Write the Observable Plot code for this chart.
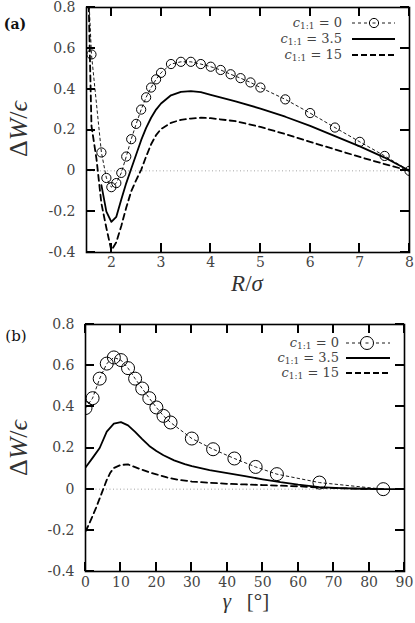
<!DOCTYPE html>
<html><head><meta charset="utf-8">
<script src="https://cdn.jsdelivr.net/npm/d3@7"></script>
<script src="https://cdn.jsdelivr.net/npm/@observablehq/plot@0.6"></script>
<style>
html,body{margin:0;padding:0;background:#fff;}
body{width:415px;height:623px;overflow:hidden;position:relative;}
svg{display:block;overflow:visible;}
#overlay{position:absolute;left:0;top:0;width:415px;height:623px;pointer-events:none;z-index:10;}
</style></head><body><div id="pa"></div><div id="pb"></div>
<svg id="overlay" width="415" height="623"></svg>
<script>
// ---- Panel (a): ΔW/ε vs R/σ ----
const R_c0 = [1.5,1.6,1.8,1.9,2.0,2.1,2.2,2.3,2.4,2.5,2.6,2.7,2.8,2.9,3.0,3.2,3.4,3.6,3.8,4.0,4.2,4.4,4.6,4.8,5.0,5.5,6.0,6.5,7.0,7.5,8.0];
const W_c0 = [1.1,0.57,0.09,-0.035,-0.08,-0.06,-0.01,0.07,0.155,0.23,0.30,0.36,0.408,0.448,0.48,0.523,0.534,0.534,0.523,0.51,0.494,0.473,0.454,0.433,0.408,0.35,0.283,0.212,0.142,0.073,0];
const R_c35 = [1.8,1.9,2.0,2.1,2.2,2.3,2.4,2.5,2.6,2.7,2.8,2.9,3.0,3.2,3.4,3.6,3.8,4.0,4.5,5.0,5.5,6.0,6.5,7.0,7.5,8.0];
const W_c35 = [-0.07,-0.2,-0.25,-0.225,-0.14,-0.06,0.01,0.08,0.15,0.21,0.26,0.3,0.33,0.37,0.387,0.39,0.385,0.372,0.34,0.305,0.265,0.22,0.17,0.12,0.065,0];
const R_c15 = [1.5,1.6,1.7,1.8,1.9,2.0,2.1,2.2,2.3,2.4,2.5,2.6,2.7,2.8,2.9,3.0,3.2,3.4,3.6,3.8,4.0,4.5,5.0,5.5,6.0,6.5,7.0,7.5,8.0];
const W_c15 = [1.3,0.22,0.06,-0.16,-0.28,-0.39,-0.35,-0.27,-0.18,-0.10,-0.045,0.005,0.07,0.13,0.175,0.205,0.235,0.25,0.256,0.26,0.258,0.243,0.215,0.18,0.142,0.105,0.068,0.033,0];

// ---- Panel (b): ΔW/ε vs γ ----
const G_c0 = [0,2,4,6,8,10,12,14,16,18,20,22,24,30,36,42,48,54,66,84];
const V_c0 = [0.394,0.442,0.537,0.61,0.64,0.627,0.588,0.537,0.489,0.442,0.397,0.356,0.324,0.246,0.194,0.149,0.108,0.073,0.032,0];
const G_c35 = [0,2,4,6,8,10,12,14,16,18,20,22,25,28,30,35,40,45,50,55,60,66,72,78,84,90];
const V_c35 = [0.105,0.152,0.2,0.28,0.318,0.326,0.31,0.278,0.243,0.21,0.185,0.165,0.14,0.122,0.112,0.093,0.078,0.063,0.048,0.034,0.022,0.01,0.005,0.002,0,0];
const G_c15 = [0,1,2,3,4,5,6,7,8,10,12,14,16,18,20,23,26,30,35,40,45,50,55,60,66,72,78,84];
const V_c15 = [-0.205,-0.17,-0.13,-0.09,-0.045,0.0,0.045,0.08,0.103,0.118,0.12,0.107,0.094,0.082,0.072,0.057,0.046,0.037,0.031,0.026,0.023,0.02,0.017,0.014,0.008,0.004,0.002,0];

const yTicks = [-0.4,-0.2,0,0.2,0.4,0.6,0.8];
const xTicksA = [2,3,4,5,6,7,8];
const xTicksB = [0,10,20,30,40,50,60,70,80,90];
const legendLabels = ["0","3.5","15"];

const zip = (xs, ys) => xs.map((x,i)=>({x, y: ys[i]}));
const fmtY = d => d === 0 ? "0" : d.toFixed(1);
const FONT = "DejaVu Serif";
const BIG = "Liberation Serif";
const TICK = 9;
const Y_DOMAIN = [-0.4, 0.8];

function makePanel({xDomain, xTicks, c0, c35, c15, width, height, mt, mb, ml, mr, r, xPad}) {
  return Plot.plot({
    width, height, marginTop: mt, marginBottom: mb, marginLeft: ml, marginRight: mr,
    style: {fontFamily: FONT, fontSize: "14px", color: "#444", background: "white"},
    x: {domain: xDomain}, y: {domain: Y_DOMAIN},
    marks: [
      Plot.ruleY([0], {stroke: "#999", strokeWidth: 0.9, strokeDasharray: "1,2.5"}),
      Plot.line(c0, {x: "x", y: "y", stroke: "black", strokeWidth: 0.9, strokeDasharray: "2.5,3", clip: true}),
      Plot.dot(c0, {x: "x", y: "y", r, stroke: "black", strokeWidth: 1, fill: "none", clip: true}),
      Plot.line(c35, {x: "x", y: "y", stroke: "black", strokeWidth: 1.8, clip: true}),
      Plot.line(c15, {x: "x", y: "y", stroke: "black", strokeWidth: 1.8, strokeDasharray: "6,4", clip: true}),
      Plot.axisX(xTicks, {anchor: "bottom", tickSize: 0, tickPadding: xPad, label: null, fill: "#444"}),
      Plot.axisY(yTicks, {anchor: "left", tickSize: 0, tickPadding: 11, tickFormat: fmtY, label: null, fill: "#444"}),
      Plot.frame({stroke: "black", strokeWidth: 1.6})
    ]
  });
}

// inward ticks on all four sides, positioned by the plot's own scales, drawn in a top overlay
function addTicks(svg, xTicks, {width, height, mt, mb, ml, mr}, offsetY) {
  const sx = svg.scale("x"), sy = svg.scale("y");
  let fx = v => sx.apply(v), fy = v => sy.apply(v);
  if (typeof sx.apply !== "function" || !isFinite(fx(xTicks[1]))) {
    fx = d3.scaleLinear(sx.domain, [ml, width - mr]);
    fy = d3.scaleLinear(sy.domain, [height - mb, mt]);
  }
  const top = mt + offsetY, bottom = height - mb + offsetY, left = ml, right = width - mr;
  const g = d3.select("#overlay").append("g").attr("stroke", "#000").attr("stroke-width", 2).attr("fill", "none");
  xTicks.forEach(v => {
    const x = Math.round(fx(v));
    g.append("path").attr("d", `M${x},${bottom}V${bottom - TICK}`);
    g.append("path").attr("d", `M${x},${top}V${top + TICK}`);
  });
  yTicks.forEach(v => {
    const y = Math.round(fy(v)) + offsetY;
    g.append("path").attr("d", `M${left},${y}H${left + TICK}`);
    g.append("path").attr("d", `M${right},${y}H${right - TICK}`);
  });
}

function addLegend(svg, {xr, x0, x1, ys, cx, r}) {
  const g = d3.select(svg).append("g").attr("font-family", FONT).attr("font-size", 13).attr("fill", "#444");
  legendLabels.forEach((lab, i) => {
    const t = g.append("text").attr("x", xr).attr("y", ys[i]).attr("text-anchor", "end").attr("dy", "0.3em");
    t.append("tspan").attr("font-style", "italic").text("c");
    t.append("tspan").attr("font-size", 9).attr("dy", 2.5).text("1:1");
    t.append("tspan").attr("dy", -2.5).text(" = " + lab);
  });
  const l = g.append("g").attr("fill", "none").attr("stroke", "black");
  l.append("line").attr("x1", x0).attr("x2", x1).attr("y1", ys[0]).attr("y2", ys[0]).attr("stroke-width", 0.9).attr("stroke-dasharray", "3,3");
  l.append("circle").attr("cx", cx).attr("cy", ys[0]).attr("r", r).attr("fill", "white").attr("stroke-width", 1);
  l.append("line").attr("x1", cx - 1.5).attr("x2", cx + 1.5).attr("y1", ys[0]).attr("y2", ys[0]).attr("stroke-width", 0.9);
  l.append("line").attr("x1", x0).attr("x2", x1).attr("y1", ys[1]).attr("y2", ys[1]).attr("stroke-width", 1.8);
  l.append("line").attr("x1", x0).attr("x2", x1).attr("y1", ys[2]).attr("y2", ys[2]).attr("stroke-width", 1.8).attr("stroke-dasharray", "6,3");
}

function addYLabel(svg, cx, cy) {
  const t = d3.select(svg).append("text")
    .attr("transform", `translate(${cx},${cy}) rotate(-90)`)
    .attr("text-anchor", "middle").attr("dy", "0.35em")
    .attr("font-family", BIG).attr("font-size", 26).attr("fill", "#333");
  t.append("tspan").text("Δ");
  t.append("tspan").attr("font-style", "italic").text("W");
  t.append("tspan").text("/");
  t.append("tspan").attr("font-style", "italic").text("ϵ");
}

// Panel a
const dimA = {width: 415, height: 310, mt: 7, mb: 58, ml: 86, mr: 6};
const svgA = makePanel({xDomain: [1.5, 8], xTicks: xTicksA, c0: zip(R_c0, W_c0), c35: zip(R_c35, W_c35), c15: zip(R_c15, W_c15),
  ...dimA, r: 4.6, xPad: 5});
document.getElementById("pa").appendChild(svgA);
addTicks(svgA, xTicksA, dimA, 0);
addLegend(svgA, {xr: 342, x0: 352, x1: 395, ys: [23, 39, 55], cx: 374, r: 4.6});
addYLabel(svgA, 18, 129);
{
  const s = d3.select(svgA);
  const t = s.append("text").attr("x", 247).attr("y", 291).attr("text-anchor", "middle")
    .attr("font-family", BIG).attr("font-size", 23).attr("fill", "#333");
  t.append("tspan").attr("font-style", "italic").text("R");
  t.append("tspan").text("/");
  t.append("tspan").attr("font-style", "italic").text("σ");
  s.append("text").attr("x", 15).attr("y", 29).attr("font-family", FONT).attr("font-size", 14).attr("font-weight", "bold").attr("fill", "#111").text("(a)");
}

// Panel b
const dimB = {width: 415, height: 313, mt: 14, mb: 52, ml: 85, mr: 11};
const svgB = makePanel({xDomain: [0, 90], xTicks: xTicksB, c0: zip(G_c0, V_c0), c35: zip(G_c35, V_c35), c15: zip(G_c15, V_c15),
  ...dimB, r: 6.5, xPad: 6});
document.getElementById("pb").appendChild(svgB);
addTicks(svgB, xTicksB, dimB, 310);
addLegend(svgB, {xr: 339, x0: 346, x1: 390, ys: [33, 48, 63], cx: 367, r: 6.5});
addYLabel(svgB, 18, 138);
{
  const s = d3.select(svgB);
  const t = s.append("text").attr("x", 246).attr("y", 298).attr("text-anchor", "middle")
    .attr("font-family", BIG).attr("font-size", 21).attr("fill", "#333").attr("xml:space", "preserve");
  t.append("tspan").attr("font-style", "italic").text("γ");
  t.append("tspan").text("   [°]");
  s.append("text").attr("x", 16).attr("y", 31).attr("font-family", FONT).attr("font-size", 15).attr("fill", "#111").text("(b)");
}
</script>
</body></html>
